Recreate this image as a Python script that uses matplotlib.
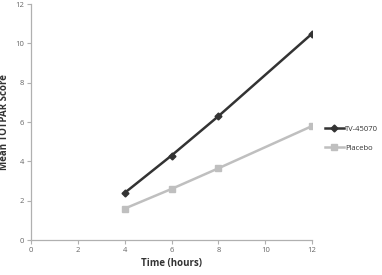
import matplotlib
matplotlib.use('Agg')
import matplotlib.pyplot as plt

hours = [4, 6, 8, 12]
tv45070 = [2.4, 4.3, 6.3, 10.5]
placebo = [1.6, 2.6, 3.65, 5.8]
x_ticks = [0, 2, 4, 6, 8, 10, 12]
y_ticks = [0, 2, 4, 6, 8, 10, 12]

plt.rcParams['font.family'] = ['Open Sans', 'DejaVu Sans']

fig = plt.figure(figsize=(3.82, 2.75), dpi=100)
ax = fig.add_axes([0.081, 0.127, 0.736, 0.858])

ax.plot(hours, tv45070, color='#333333', lw=1.8, marker='D', ms=3.5, label='TV-45070')
ax.plot(hours, placebo, color='#bfbfbf', lw=1.8, marker='s', ms=4.5, label='Placebo')

ax.set_xlim(0, 12)
ax.set_ylim(0, 12)
ax.set_xticks(x_ticks)
ax.set_yticks(y_ticks)
for s in ['top', 'right']:
    ax.spines[s].set_visible(False)
for s in ['left', 'bottom']:
    ax.spines[s].set_color('#b0b0b0')
    ax.spines[s].set_linewidth(0.9)
ax.tick_params(colors='#b0b0b0', labelcolor='#666666', labelsize=5.5, length=3, width=0.8, pad=2)

ax.set_xlabel('Time (hours)', fontsize=7, fontweight='bold', color='#333333', labelpad=3)
ax.set_ylabel('Mean TOTPAR Score', fontsize=7, fontweight='bold', color='#333333', labelpad=4)

ax.legend(loc='center left', bbox_to_anchor=(1.02, 0.43), frameon=False, fontsize=5.5,
          handlelength=2.5, handletextpad=0.2, labelspacing=1.6, labelcolor='#333333')

fig.savefig('out.png', dpi=100)
